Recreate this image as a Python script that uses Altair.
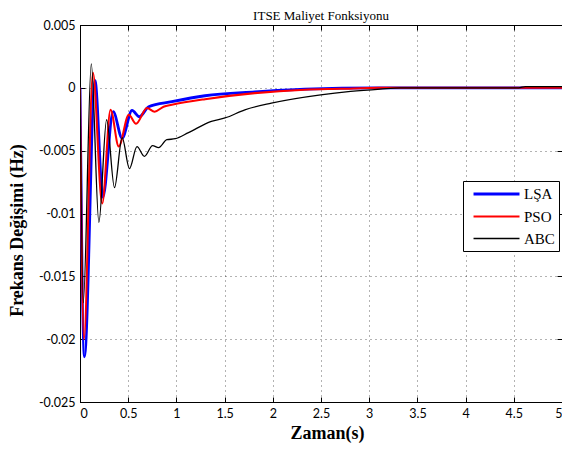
import altair as alt
import pandas as pd

# ---- data ----
series_names = ["LŞA", "PSO", "ABC"]

lsa_t = [0.0, 0.046, 0.155, 0.237, 0.344, 0.437, 0.54, 0.616, 0.712, 0.953, 1.297, 1.813, 2.33, 3.1, 4.0, 5.0]
lsa_v = [0.0, -0.0214, 0.0006, -0.0087, -0.0019, -0.0040, -0.0018, -0.0023, -0.0015, -0.0011, -0.00063, -0.00032, -0.0001, 0.0, 0.0, 0.0]

pso_t = [0.0, 0.041, 0.134, 0.23, 0.317, 0.402, 0.506, 0.581, 0.695, 0.774, 0.867, 0.953, 1.297, 1.813, 2.33, 2.7, 3.1, 4.0, 5.0]
pso_v = [0.0, -0.0200, 0.0012, -0.0092, -0.00175, -0.00466, -0.00214, -0.00286, -0.0016, -0.0019, -0.0015, -0.00135, -0.0009, -0.00042, -0.00015, -0.00008, 0.0, 0.0, 0.0]

abc_t = [0.0, 0.034, 0.117, 0.196, 0.276, 0.358, 0.437, 0.513, 0.591, 0.668, 0.753, 0.815, 0.901, 0.988, 1.125, 1.362, 1.504, 1.71, 1.985, 2.497, 2.807, 3.117, 3.323, 4.55, 4.62, 5.0]
abc_v = [0.0, -0.0171, 0.0019, -0.0107, -0.00254, -0.00794, -0.00397, -0.00643, -0.00468, -0.00545, -0.0046, -0.00476, -0.00413, -0.00405, -0.00357, -0.00267, -0.0024, -0.00175, -0.00122, -0.00056, -0.00029, -0.0001, 0.0, 0.0, 0.0001, 0.0001]

x_ticks = [0, 0.5, 1, 1.5, 2, 2.5, 3, 3.5, 4, 4.5, 5]
y_ticks = [0.005, 0, -0.005, -0.01, -0.015, -0.02, -0.025]

colors = ["#0000ff", "#ff0000", "#000000"]
widths = [2.8, 1.3, 1.0]

frames = []
for name, ts, vs in [("LŞA", lsa_t, lsa_v), ("PSO", pso_t, pso_v), ("ABC", abc_t, abc_v)]:
    frames.append(pd.DataFrame({"t": ts, "v": vs, "series": name}))
df = pd.concat(frames, ignore_index=True)

xs = alt.Scale(domain=[0, 5], nice=False, zero=False)
ys = alt.Scale(domain=[-0.025, 0.005], nice=False, zero=False)

x_main = alt.X("t:Q", scale=xs, axis=alt.Axis(
    values=x_ticks, title="Zaman(s)", grid=True, gridDash=[1, 4], gridColor="#000000",
    gridOpacity=0.6, tickSize=0, domain=True, domainColor="#000000",
    labelFont="Lato", labelFontSize=12.5, labelColor="#000000", labelPadding=5,
    labelExpr="'' + datum.value",
    titleFont="Liberation Serif", titleFontSize=18, titleFontWeight="bold",
    titleColor="#000000", titlePadding=5, titleX=247))
y_main = alt.Y("v:Q", scale=ys, axis=alt.Axis(
    values=y_ticks, title="Frekans Değişimi (Hz)", grid=True, gridDash=[1, 4],
    gridColor="#000000", gridOpacity=0.6, tickSize=0, domain=True, domainColor="#000000",
    labelFont="Lato", labelFontSize=12.5, labelColor="#000000", labelPadding=5,
    labelExpr="'' + datum.value",
    titleFont="Liberation Serif", titleFontSize=18, titleFontWeight="bold",
    titleColor="#000000", titleX=-54, titleY=205))

legend = alt.Legend(title=None)
color = alt.Color("series:N", scale=alt.Scale(domain=series_names, range=colors), legend=legend)
sw = alt.StrokeWidth("series:N", scale=alt.Scale(domain=series_names, range=widths), legend=legend)

layers = []
for name in series_names:
    layers.append(
        alt.Chart(df).transform_filter(alt.datum.series == name)
        .mark_line(interpolate="monotone", clip=True)
        .encode(x=x_main, y=y_main, color=color, strokeWidth=sw)
    )
main = alt.layer(*layers)


def tick_axis(orient):
    return alt.Axis(values=x_ticks if orient in ("top", "bottom") else y_ticks,
                    orient=orient, offset=-5, domain=False, labels=False, grid=False,
                    ticks=True, tickSize=5, tickColor="#000000", title=None)


ticks_bl = alt.Chart(df).mark_line(opacity=0).encode(
    x=alt.X("t:Q", scale=xs, axis=tick_axis("bottom")),
    y=alt.Y("v:Q", scale=ys, axis=tick_axis("left")),
    detail="series:N")
ticks_tr = alt.Chart(df).mark_line(opacity=0).encode(
    x=alt.X("t:Q", scale=xs, axis=tick_axis("top")),
    y=alt.Y("v:Q", scale=ys, axis=tick_axis("right")),
    detail="series:N")

chart = alt.layer(main, ticks_bl, ticks_tr).resolve_axis(
    x="independent", y="independent"
).properties(
    width=482, height=377,
    autosize=alt.AutoSizeParams(type="none"),
    padding={"left": 72, "top": 17, "right": 0, "bottom": 45},
    title=alt.TitleParams("ITSE Maliyet Fonksiyonu", font="Liberation Serif", fontSize=13,
                          fontWeight="normal", color="#000000", anchor="middle",
                          offset=2, dy=6),
).configure_view(
    stroke="#000000", strokeWidth=1
).configure_legend(
    orient="none", legendX=383, legendY=156,
    strokeColor="#000000", fillColor="#ffffff", padding=4,
    symbolType="M-0.33,0H5.8", symbolSize=225, labelOffset=39,
    labelFont="Liberation Serif", labelFontSize=15, labelColor="#000000",
    rowPadding=5.5
)

chart.save("out.html", embed_options={"renderer": "svg", "actions": False})
